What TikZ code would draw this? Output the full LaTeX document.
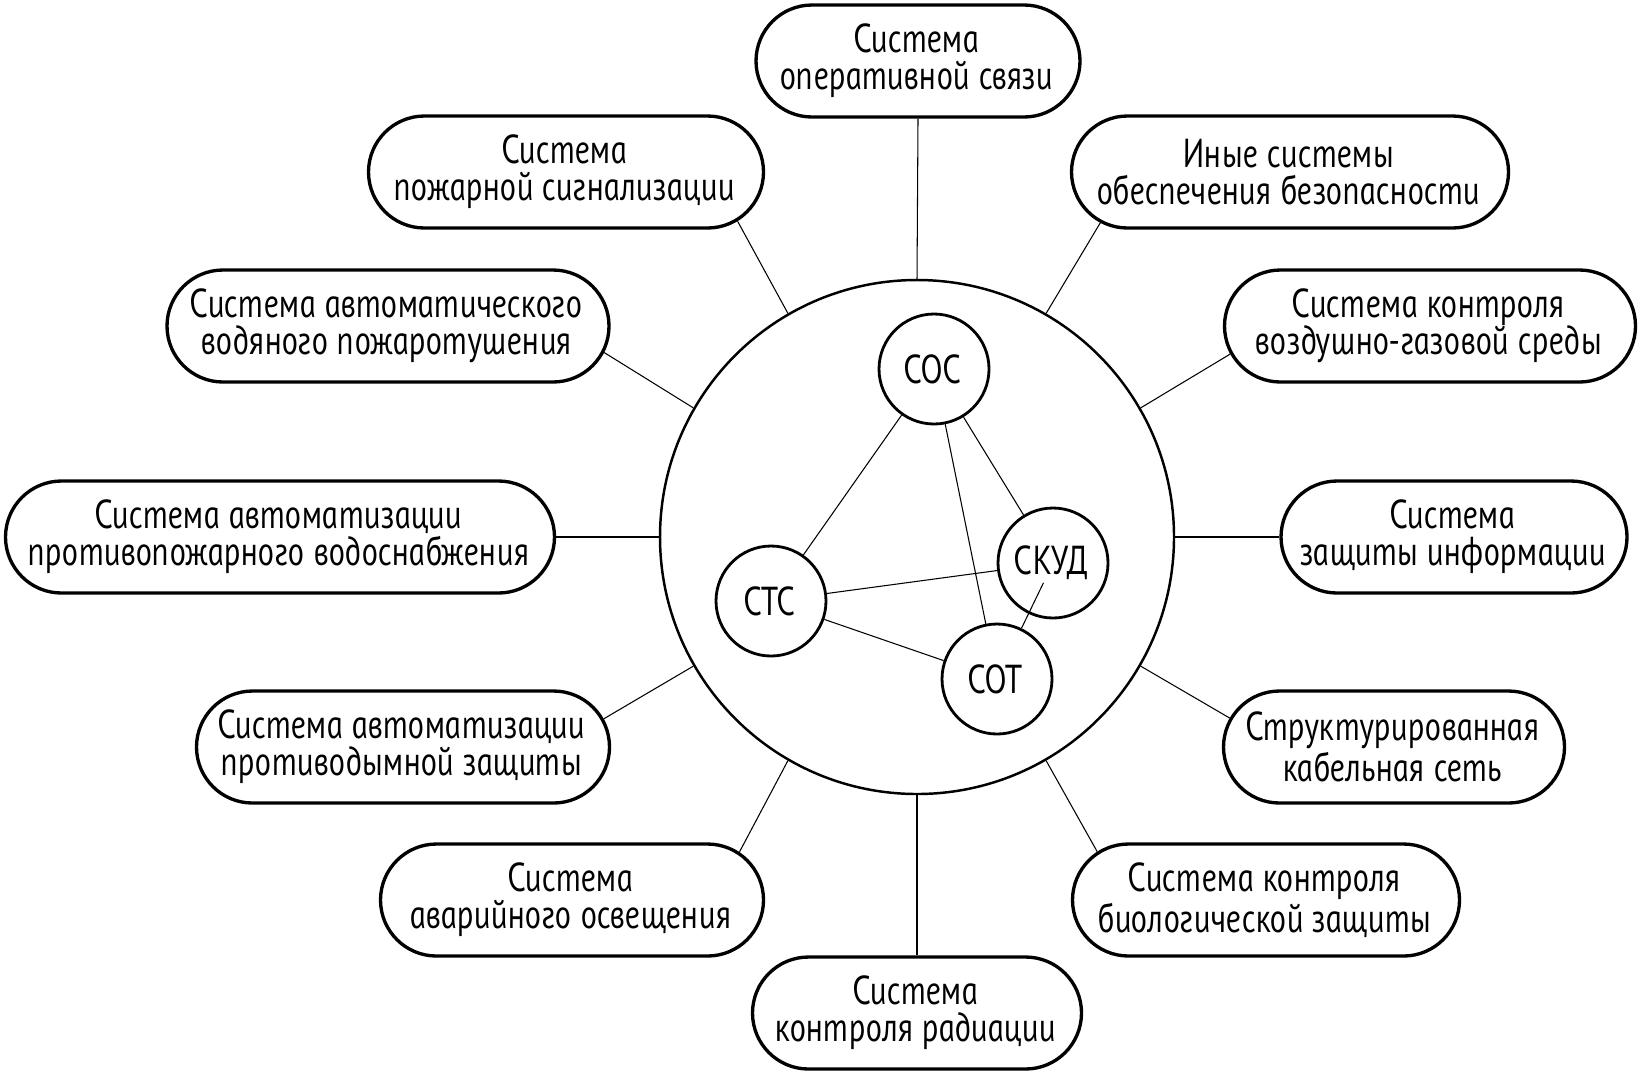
\documentclass[tikz,border=0pt]{standalone}
\usepackage{fontspec}
\usepackage{tikz}
\usetikzlibrary{shapes.misc,calc}
\newfontfamily\gost{PT Sans Italic}[FakeSlant=-0.17,FakeStretch=0.82]

\begin{document}
\begin{tikzpicture}[
  x=0.1mm,y=-0.1mm,
  font=\gost\fontsize{11.5}{10.5}\selectfont,
  sys/.style={rounded rectangle,draw,line width=0.95pt,minimum height=1.12cm,inner sep=0pt},
  txt/.style={align=center,inner sep=0pt},
  core/.style={circle,draw,line width=0.7pt,minimum size=5.14cm,inner sep=0pt},
  sub/.style={circle,draw,line width=0.8pt,minimum size=1.1cm,inner sep=0pt},
  spoke/.style={line width=0.3pt},
  link/.style={line width=0.3pt}
]
  \useasboundingbox (0,0) rectangle (1642,1075);

  \node[core] (core) at (917,537) {};

  % systems inside the core
  \node[sub] (soc) at (934,369) {СОС};
  \node[sub] (skud) at (1053,563) {СКУД};
  \node[sub] (stc) at (771,601) {СТС};
  \node[sub] (sot) at (997,679) {СОТ};
  \draw[link] (soc) -- (stc);
  \draw[link] (soc) -- (skud);
  \draw[link] (soc) -- (sot);
  \draw[link] (stc) -- (skud);
  \draw[link] (stc) -- (sot);
  \draw[link] ($(skud)!0.17!(sot)$) -- (sot);

  % outer systems
  \node[sys,minimum width=3.24cm] (ops) at (918,61) {};
  \node[txt] (ops-t) at (ops) {Система\\оперативной связи};
  \node[sys,minimum width=3.95cm] (fire) at (566,172) {};
  \node[txt] (fire-t) at (fire) {Система\\пожарной сигнализации};
  \node[sys,minimum width=4.37cm] (other) at (1290,172) {};
  \node[txt] (other-t) at (other) {Иные системы\\обеспечения безопасности};
  \node[sys,minimum width=4.42cm] (water) at (388,326) {};
  \node[txt] (water-t) at (water) {Система автоматического\\водяного пожаротушения};
  \node[sys,minimum width=4.11cm] (air) at (1430,326) {};
  \node[txt] (air-t) at (air) {Система контроля\\воздушно-газовой среды};
  \node[sys,minimum width=5.49cm] (supply) at (280,537) {};
  \node[txt] (supply-t) at (supply) {Система автоматизации\\противопожарного водоснабжения};
  \node[sys,minimum width=3.46cm] (info) at (1454,537) {};
  \node[txt] (info-t) at (info) {Система\\защиты информации};
  \node[sys,minimum width=4.13cm] (smoke) at (403,747) {};
  \node[txt] (smoke-t) at (smoke) {Система автоматизации\\противодымной защиты};
  \node[sys,minimum width=3.41cm] (cable) at (1394,747) {};
  \node[txt] (cable-t) at (cable) {Структурированная\\кабельная сеть};
  \node[sys,minimum width=3.83cm] (light) at (572,900) {};
  \node[txt] (light-t) at (light) {Система\\аварийного освещения};
  \node[sys,minimum width=3.87cm] (bio) at (1266,900) {};
  \node[txt] (bio-t) at (bio) {Система контроля\\биологической защиты};
  \node[sys,minimum width=3.29cm] (rad) at (917,1013) {};
  \node[txt] (rad-t) at (rad) {Система\\контроля радиации};

  % spokes
  \draw[spoke] (core.90) -- (ops.south);
  \draw[spoke] (core.120) -- (fire.-16.3);
  \draw[spoke] (core.60) -- (other.-165.7);
  \draw[spoke] (core.150) -- (water.-7.6);
  \draw[spoke] (core.30) -- (air.188.3);
  \draw[spoke] (core.180) -- (supply.east);
  \draw[spoke] (core.0) -- (info.west);
  \draw[spoke] (core.210) -- (smoke.8);
  \draw[spoke] (core.330) -- (cable.170.1);
  \draw[spoke] (core.240) -- (light.16.4);
  \draw[spoke] (core.300) -- (bio.164.2);
  \draw[spoke] (core.270) -- (rad.north);
\end{tikzpicture}
\end{document}
